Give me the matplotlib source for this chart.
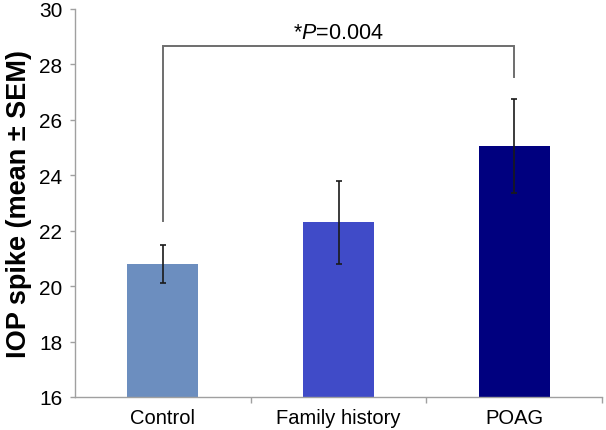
import matplotlib
matplotlib.use("Agg")
import matplotlib.pyplot as plt

categories = ["Control", "Family history", "POAG"]
means = [20.8, 22.3, 25.05]
sems = [0.67, 1.5, 1.7]
colors = ["#6C8EBF", "#404BC8", "#00007F"]
yticks = [16, 18, 20, 22, 24, 26, 28, 30]
bracket_left_y = 22.35
bracket_top_y = 28.65
bracket_right_y = 27.55
p_text = "*$\\it{P}$=0.004"

plt.rcParams['font.family'] = ['Liberation Sans', 'DejaVu Sans']
plt.rcParams['mathtext.fontset'] = 'custom'
plt.rcParams['mathtext.it'] = 'Liberation Sans:italic'
plt.rcParams['mathtext.rm'] = 'Liberation Sans'

fig = plt.figure(figsize=(6.06, 4.31), dpi=100)
ax = fig.add_axes([0.1233, 0.0766, 0.8706, 0.9002])

x = list(range(len(categories)))
ax.bar(x, means, width=0.4, color=colors, zorder=2)
ax.errorbar(x, means, yerr=sems, fmt='none', ecolor='#1a1a1a', elinewidth=1.2,
            capsize=2.5, capthick=1.2, zorder=3)

ax.set_ylim(16, 30)
ax.set_xlim(-0.5, 2.5)
ax.set_yticks(yticks)
ax.set_yticklabels([str(t) for t in yticks], fontsize=15)
ax.set_xticks(x)
ax.set_xticklabels(categories, fontsize=14.5)
ax.tick_params(axis='x', length=0, pad=8)
ax.set_xticks([0.5, 1.5, 2.5], minor=True)
ax.tick_params(axis='x', which='minor', length=4, color='#A0A0A0', width=1)
ax.tick_params(axis='y', length=3.5, color='#A0A0A0', width=1, pad=5.5)

for s in ['top', 'right']:
    ax.spines[s].set_visible(False)
for s in ['left', 'bottom']:
    ax.spines[s].set_color('#A0A0A0')
    ax.spines[s].set_linewidth(1)

ax.set_ylabel("IOP spike (mean ± SEM)", fontsize=19.5, fontweight='bold', labelpad=5)

ax.plot([0, 0, 2, 2], [bracket_left_y, bracket_top_y, bracket_top_y, bracket_right_y],
        color='#6E6E6E', lw=1.4, zorder=1, solid_joinstyle='miter')
ax.text(1, bracket_top_y + 0.12, p_text, ha='center', va='bottom', fontsize=15.5)

fig.savefig("out.png", dpi=100)
